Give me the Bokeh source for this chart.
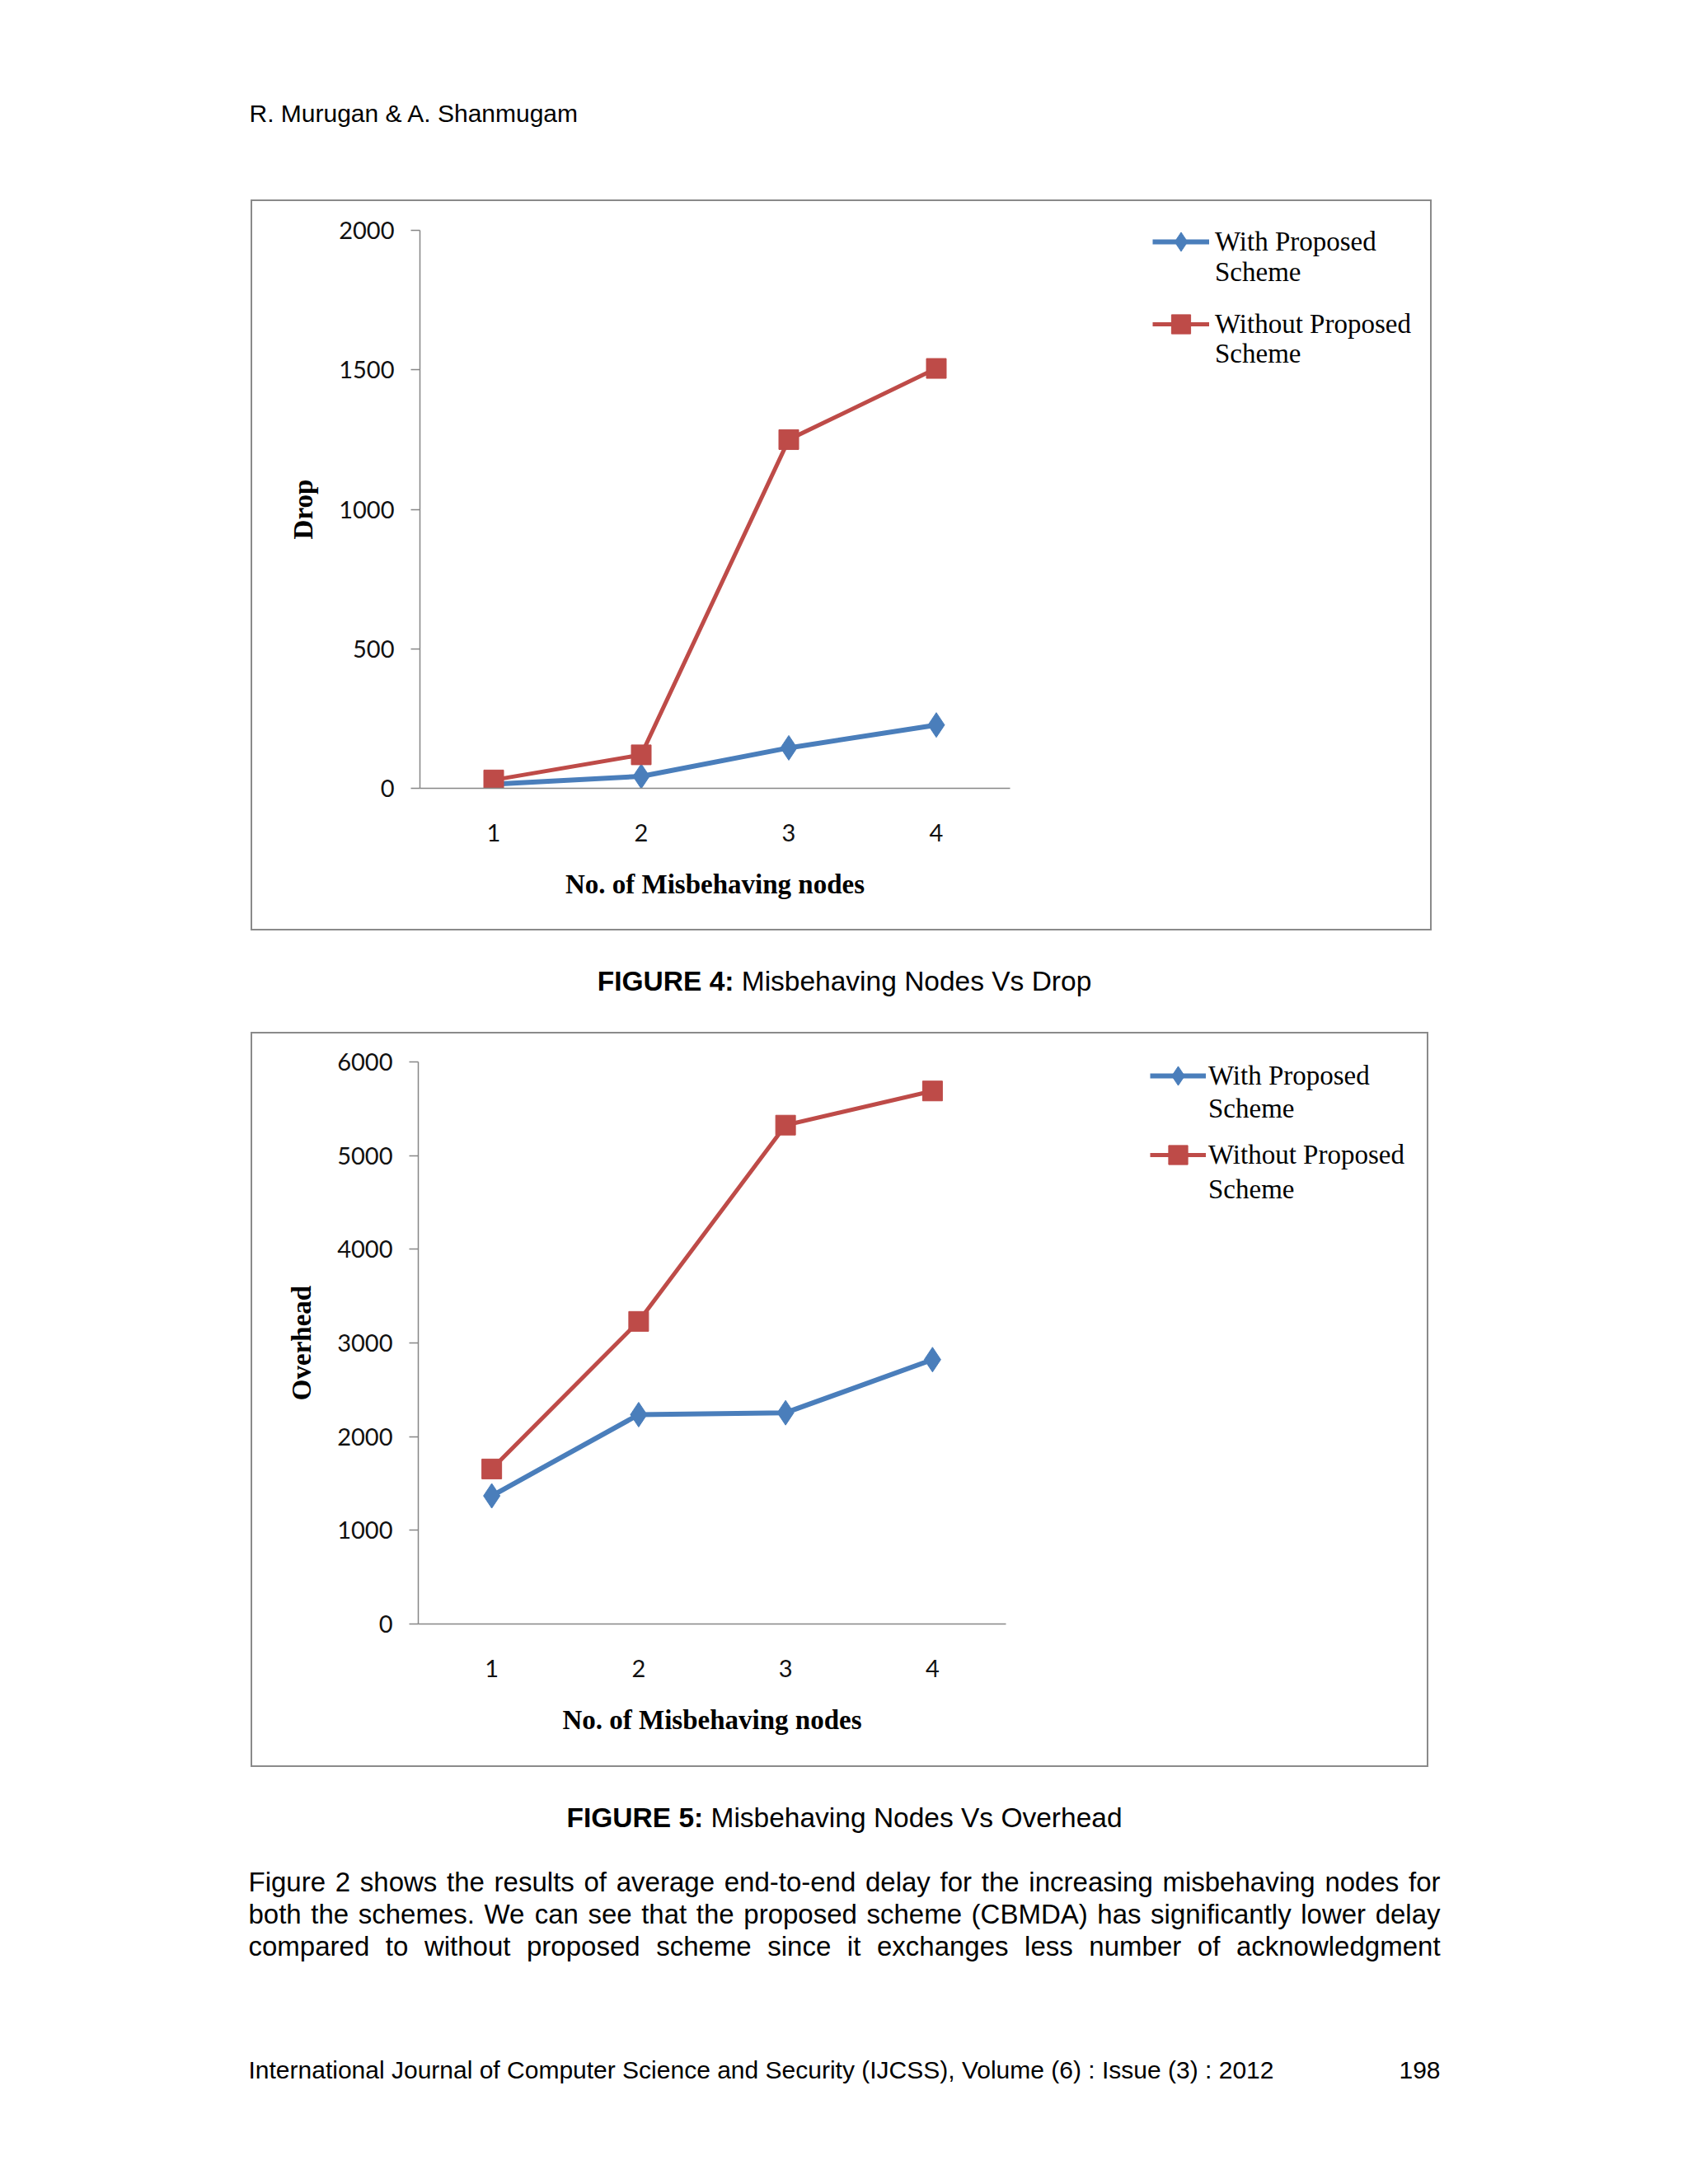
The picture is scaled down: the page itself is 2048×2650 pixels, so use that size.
from bokeh.plotting import figure
from bokeh.models import FactorRange, Range1d, FixedTicker, Legend, LegendItem, Spacer
from bokeh.layouts import column, row
from bokeh.embed import file_html
from bokeh.resources import INLINE
from bokeh.core.properties import value

# ---------------- data ----------------
categories = ["1", "2", "3", "4"]
series_names = ["With Proposed", "Without Proposed"]
legend_second_line = "Scheme"
x_title = "No. of Misbehaving nodes"

drop_with = [15, 43, 145, 227]
drop_without = [30, 120, 1250, 1505]
drop_ticks = [0, 500, 1000, 1500, 2000]

overhead_with = [1368, 2235, 2255, 2822]
overhead_without = [1655, 3230, 5325, 5690]
overhead_ticks = [0, 1000, 2000, 3000, 4000, 5000, 6000]

header_text = "R. Murugan & A. Shanmugam"
caption_labels = ["FIGURE 4:", "FIGURE 5:"]
caption_texts = ["Misbehaving Nodes Vs Drop", "Misbehaving Nodes Vs Overhead"]
paragraph_lines = [
    "Figure 2 shows the results of average end-to-end delay for the increasing misbehaving nodes for",
    "both the schemes. We can see that the proposed scheme (CBMDA) has significantly lower delay",
    "compared to without proposed scheme since it exchanges less number of acknowledgment",
]
footer_left = "International Journal of Computer Science and Security (IJCSS), Volume (6) : Issue (3) : 2012"
footer_right = "198"

# ---------------- styles ----------------
BLUE = "#4A7EBB"
RED = "#BE4B48"
AXIS = "#868686"
BORDER = "2px solid #8a8a8a"
PAGE_W = 2000
SANS = "Liberation Sans"
SERIF = "Liberation Serif"
TICK_FONT = "Lato"

# Helvetica/Arial advance widths (1/1000 em) for text layout
_HW = {' ': 278, '&': 667, '(': 333, ')': 333, ',': 278, '-': 333, '.': 278, ':': 278}
for _d in "0123456789":
    _HW[_d] = 556
_HW.update(dict(zip("ABCDEFGHIJKLMNOPQRSTUVWXYZ",
                    [667, 667, 722, 722, 667, 611, 778, 722, 278, 500, 667, 556, 833,
                     722, 778, 667, 778, 722, 667, 611, 722, 667, 944, 667, 667, 611])))
_HW.update(dict(zip("abcdefghijklmnopqrstuvwxyz",
                    [556, 556, 500, 556, 556, 278, 556, 556, 222, 222, 500, 222, 833,
                     556, 556, 556, 556, 333, 500, 278, 556, 500, 722, 500, 500, 500])))
_HB = {'F': 611, 'I': 278, 'G': 778, 'U': 722, 'R': 722, 'E': 667, ' ': 278, ':': 333}
for _d in "0123456789":
    _HB[_d] = 556


def tw(s, bold=False):
    tab = _HB if bold else _HW
    return sum(tab.get(c, 556) for c in s) / 1000.0


def no_align(p):
    if "frame_align" in type(p).properties():
        p.frame_align = False


def blank_fig(w, h, xr, yr):
    p = figure(width=w, height=h, x_range=xr, y_range=yr, output_backend="svg",
               toolbar_location=None, min_border=0, x_axis_location=None, y_axis_location=None)
    p.xgrid.visible = False
    p.ygrid.visible = False
    p.outline_line_color = None
    p.background_fill_color = "white"
    p.border_fill_color = "white"
    return p


def text_fig(y0, y1):
    return blank_fig(PAGE_W, y1 - y0, Range1d(0, PAGE_W), Range1d(y1, y0))


def put_text(p, xs, ys, texts, size, bold=False, align="left"):
    # y values are the vertical centres of the text lines
    p.text(x=xs, y=ys, text=texts, text_font=value(SANS), text_font_size=value(f"{size}px"),
           text_font_style="bold" if bold else "normal", text_align=align,
           text_baseline="alphabetic", text_color="#000000")


def caption(p, label, txt, yc, size=33.5, center=1024):
    total = (tw(label + " ", bold=True) + tw(txt)) * size
    x0 = center - total / 2
    put_text(p, [x0], [yc], [label], size, bold=True)
    put_text(p, [x0 + tw(label + " ", bold=True) * size], [yc], [txt], size)


def chart(w, h, left, right, top, bottom, y_end, ticks, with_vals, without_vals, ytitle):
    p = figure(width=w, height=h, x_range=FactorRange(factors=categories),
               y_range=Range1d(0, y_end), output_backend="svg", toolbar_location=None,
               min_border_left=left, min_border_right=right,
               min_border_top=top, min_border_bottom=bottom)
    no_align(p)
    p.styles = {"border-left": BORDER, "border-top": BORDER, "border-bottom": BORDER}
    p.xgrid.visible = False
    p.ygrid.visible = False
    p.outline_line_color = None
    p.background_fill_color = "white"
    p.border_fill_color = "white"

    ya = p.yaxis[0]
    ya.ticker = FixedTicker(ticks=ticks)
    ya.minor_tick_line_color = None
    ya.major_tick_out = 11
    ya.major_tick_in = 0
    ya.major_tick_line_color = AXIS
    ya.major_tick_line_width = 1.5
    ya.axis_line_color = AXIS
    ya.axis_line_width = 1.5
    ya.major_label_standoff = 20
    ya.major_label_text_font = TICK_FONT
    ya.major_label_text_font_size = "29px"
    ya.major_label_text_color = "#111111"
    ya.axis_label = ytitle
    ya.axis_label_text_font = SERIF
    ya.axis_label_text_font_style = "bold"
    ya.axis_label_text_font_size = "33px"
    ya.axis_label_text_color = "#000000"
    ya.axis_label_standoff = 22

    xa = p.xaxis[0]
    xa.major_tick_out = 0
    xa.major_tick_in = 0
    xa.major_tick_line_color = None
    xa.axis_line_color = AXIS
    xa.axis_line_width = 1.5
    xa.major_label_standoff = 43
    xa.major_label_text_font = TICK_FONT
    xa.major_label_text_font_size = "29px"
    xa.major_label_text_color = "#111111"
    xa.axis_label = x_title
    xa.axis_label_text_font = SERIF
    xa.axis_label_text_font_style = "bold"
    xa.axis_label_text_font_size = "33px"
    xa.axis_label_text_color = "#000000"
    xa.axis_label_standoff = 31

    p.line(x=categories, y=with_vals, line_color=BLUE, line_width=6)
    p.scatter(x=categories, y=with_vals, marker="diamond", size=30,
              fill_color=BLUE, line_color=BLUE)
    p.line(x=categories, y=without_vals, line_color=RED, line_width=5)
    p.scatter(x=categories, y=without_vals, marker="square", size=24,
              fill_color=RED, line_color=RED)
    return p


def legend_fig(w, h, with_vals, without_vals, marginA, glyphA, standoffA, spacingA,
               marginB, glyphB, spacingB):
    p = blank_fig(w, h, Range1d(0, 1), Range1d(0, 1))
    no_align(p)
    p.styles = {"border-right": BORDER, "border-top": BORDER, "border-bottom": BORDER}
    xs = [int(c) for c in categories]
    # key renderers: hidden in this panel, they only supply the legend's swatches
    bl = p.line(x=xs, y=with_vals, line_color=BLUE, line_width=6, visible=False)
    bs = p.scatter(x=xs, y=with_vals, marker="diamond", fill_color=BLUE, line_color=BLUE,
                   visible=False)
    rl = p.line(x=xs, y=without_vals, line_color=RED, line_width=5, visible=False)
    rs = p.scatter(x=xs, y=without_vals, marker="square", fill_color=RED, line_color=RED,
                   visible=False)
    common = dict(orientation="vertical", location="top_left", padding=0,
                  border_line_color=None, background_fill_alpha=0,
                  inactive_fill_alpha=0,
                  label_text_font=SERIF, label_text_font_size="33px",
                  label_text_color="#000000")
    legend_a = Legend(items=[LegendItem(label=series_names[0], renderers=[bl, bs]),
                             LegendItem(label=series_names[1], renderers=[rl, rs])],
                      margin=marginA, glyph_width=glyphA, glyph_height=58,
                      label_standoff=standoffA, spacing=spacingA, **common)
    legend_b = Legend(items=[LegendItem(label=legend_second_line, renderers=[]),
                             LegendItem(label=legend_second_line, renderers=[])],
                      margin=marginB, glyph_width=glyphB, glyph_height=38, label_height=38,
                      label_standoff=4, spacing=spacingB, **common)
    p.add_layout(legend_a)
    p.add_layout(legend_b)
    return p


# ---------------- page pieces ----------------
top = text_fig(0, 242)
put_text(top, [302], [137], [header_text], 30)

chart1 = chart(1074, 887, 203, 155, 35, 175, 2000, drop_ticks, drop_with, drop_without, "Drop")
leg1 = legend_fig(359, 887, drop_with, drop_without, 20, 69, 7, 42, 67, 25, 61)

mid = text_fig(1133, 1252)
caption(mid, caption_labels[0], caption_texts[0], 1190)

chart2 = chart(1069, 892, 201, 155, 34, 176, 6000, overhead_ticks, overhead_with, overhead_without,
               "Overhead")
leg2 = legend_fig(360, 892, overhead_with, overhead_without, 22, 68, 3, 38, 72, 17, 60)

bottom = text_fig(2148, 2620)
caption(bottom, caption_labels[1], caption_texts[1], 2205)

XL, XR, FS = 301, 1747, 33
wx, wy, wt = [], [], []
for i, line in enumerate(paragraph_lines):
    words = line.split(" ")
    widths = [tw(wd) * FS for wd in words]
    gap = (XR - XL - sum(widths)) / (len(words) - 1)
    x = XL
    for wd, wdw in zip(words, widths):
        wx.append(x)
        wy.append(2283 + i * 39)
        wt.append(wd)
        x += wdw + gap
put_text(bottom, wx, wy, wt, FS)
put_text(bottom, [301], [2511], [footer_left], 30)
put_text(bottom, [1747], [2511], [footer_right], 30, align="right")

layout = column(
    top,
    row(Spacer(width=304, height=891), chart1, leg1),
    mid,
    row(Spacer(width=304, height=896), chart2, leg2),
    bottom,
)

open("out.html", "w").write(file_html(layout, INLINE))
